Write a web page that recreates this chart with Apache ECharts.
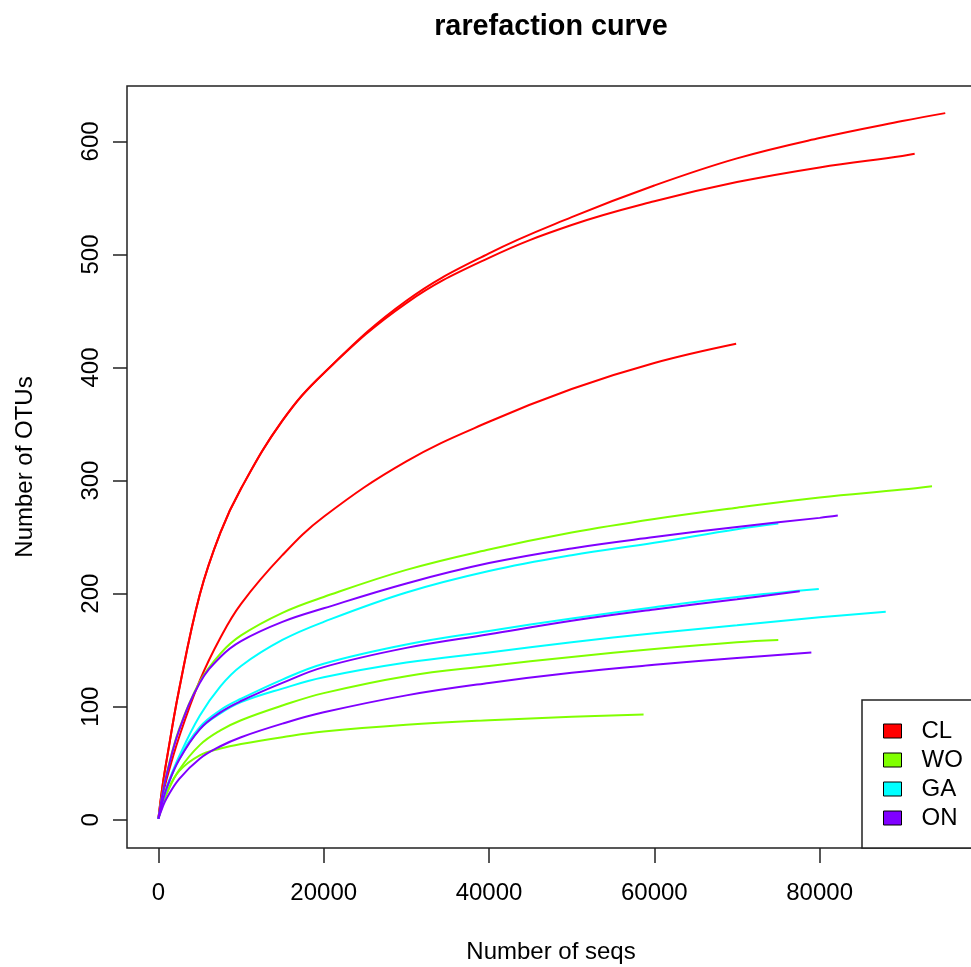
<!DOCTYPE html>
<html>
<head>
<meta charset="utf-8">
<title>rarefaction curve</title>
<script src="https://cdn.jsdelivr.net/npm/echarts@6.0.0/dist/echarts.min.js"></script>
<style>
    html, body { margin: 0; padding: 0; background: #fff; }
    #chart { width: 971px; height: 967px; }
</style>
</head>
<body>
<div id="chart"></div>
<script>
// sampling depth (Number of seqs) shared by all curves, end point added per sample
var depth = [0, 500, 1000, 2500, 5000, 7500, 10000, 15000, 20000, 30000, 40000, 50000, 60000, 70000, 80000, 90000];

var groups = ['CL', 'WO', 'GA', 'ON'];
var groupColors = ['#FF0000', '#80FF00', '#00FFFF', '#8000FF'];

// OTUs, one array per sample
var CL1 = [1, 30, 53, 115, 199, 254, 293, 353, 395, 459, 501, 533, 561, 585, 603, 618];
var CL1_end = [95200, 625];
var CL2 = [1, 30, 53, 115, 199, 254, 293, 353, 395, 457, 497, 526, 547, 564, 577, 587];
var CL2_end = [91500, 589];
var CL3 = [1, 20, 36, 73, 123, 161, 191, 234, 268, 317, 352, 381, 404];
var CL3_end = [69900, 421];

var WO1 = [1, 24, 41, 80, 122, 147, 163, 183, 197, 221, 239, 254, 266, 276, 285, 292];
var WO1_end = [93600, 295];
var WO2 = [1, 13, 23, 44, 66, 79, 88, 101, 112, 127, 136, 144, 151, 157];
var WO2_end = [75000, 159];
var WO3 = [1, 13, 24, 43, 57, 63, 67, 73, 78, 84, 88, 91];
var WO3_end = [58700, 93];

var GA1 = [1, 17, 29, 56, 92, 118, 136, 159, 175, 201, 220, 234, 245, 257];
var GA1_end = [75000, 262];
var GA2 = [1, 16, 28, 54, 82, 97, 107, 124, 138, 155, 167, 178, 188, 197];
var GA2_end = [79900, 204];
var GA3 = [1, 16, 28, 53, 80, 94, 104, 116, 126, 139, 148, 157, 165, 172, 179];
var GA3_end = [88000, 184];

var ON1 = [1, 23, 40, 79, 121, 144, 158, 175, 187, 209, 227, 240, 250, 259, 267];
var ON1_end = [82200, 269];
var ON2 = [1, 16, 28, 53, 80, 95, 105, 121, 135, 152, 164, 176, 186, 195];
var ON2_end = [77600, 202];
var ON3 = [1, 11, 19, 36, 54, 65, 73, 85, 95, 110, 121, 130, 137, 143];
var ON3_end = [79000, 148];

var xTicks = [0, 20000, 40000, 60000, 80000];
var yTicks = [0, 100, 200, 300, 400, 500, 600];

var samples = [
    ['CL', CL1, CL1_end], ['CL', CL2, CL2_end], ['CL', CL3, CL3_end],
    ['WO', WO1, WO1_end], ['WO', WO2, WO2_end], ['WO', WO3, WO3_end],
    ['GA', GA1, GA1_end], ['GA', GA2, GA2_end], ['GA', GA3, GA3_end],
    ['ON', ON1, ON1_end], ['ON', ON2, ON2_end], ['ON', ON3, ON3_end]
];

var FONT = '"Liberation Sans", Arial, Helvetica, sans-serif';

function buildSeries() {
    let list = [];
    for (let i = 0; i < samples.length; i++) {
        let name = samples[i][0],
            otus = samples[i][1],
            end = samples[i][2],
            points = [];
        for (let j = 0; j < otus.length; j++) {
            points.push([depth[j], otus[j]]);
        }
        points.push(end);
        list.push({
            name: name,
            type: 'line',
            data: points,
            symbol: 'none',
            smooth: 0.4,
            color: groupColors[groups.indexOf(name)],
            lineStyle: {width: 2},
            emphasis: {disabled: true}
        });
    }
    return list;
}

var chart = echarts.init(document.getElementById('chart'), null, {renderer: 'canvas'});

var option = {
    animation: false,
    backgroundColor: '#fff',
    textStyle: {fontFamily: FONT},
    title: {
        text: 'rarefaction curve',
        left: 546,
        top: 8,
        textAlign: 'center',
        textStyle: {fontSize: 28.8, fontWeight: 'bold', color: '#000', fontFamily: FONT}
    },
    grid: {
        left: 127,
        top: 86,
        width: 848,
        height: 762,
        outerBoundsMode: 'none',
        containLabel: false,
        show: true,
        borderColor: '#222',
        borderWidth: 1.5
    },
    legend: {
        data: groups,
        orient: 'vertical',
        left: 862,
        top: 700,
        icon: 'rect',
        itemWidth: 18,
        itemHeight: 14,
        itemGap: 5,
        padding: [19, 20, 18, 21],
        selectedMode: false,
        backgroundColor: '#fff',
        borderColor: '#222',
        borderWidth: 1.5,
        borderRadius: 0,
        itemStyle: {borderColor: '#000', borderWidth: 1},
        textStyle: {fontSize: 24, color: '#000', fontFamily: FONT, lineHeight: 24, padding: [0, 0, 0, 15]}
    },
    xAxis: {
        type: 'value',
        min: -3800,
        max: 98800,
        name: 'Number of seqs',
        nameLocation: 'middle',
        nameGap: 92,
        nameTextStyle: {fontSize: 24, color: '#000', fontFamily: FONT},
        splitLine: {show: false},
        axisLine: {show: false, onZero: false},
        axisTick: {show: true, length: 15, customValues: xTicks, lineStyle: {color: '#222', width: 1.5}},
        axisLabel: {
            customValues: xTicks,
            fontSize: 24,
            color: '#000',
            margin: 33,
            fontFamily: FONT,
            formatter: function (value) {
                return String(value);
            }
        }
    },
    yAxis: {
        type: 'value',
        min: -25,
        max: 649,
        name: 'Number of OTUs',
        nameLocation: 'middle',
        nameGap: 90,
        nameTextStyle: {fontSize: 24, color: '#000', fontFamily: FONT},
        splitLine: {show: false},
        axisLine: {show: false, onZero: false},
        axisTick: {show: true, length: 14, customValues: yTicks, lineStyle: {color: '#222', width: 1.5}},
        axisLabel: {customValues: yTicks, fontSize: 24, color: '#000', margin: 24, rotate: 90, fontFamily: FONT}
    },
    series: buildSeries()
};

chart.setOption(option);
</script>
</body>
</html>
